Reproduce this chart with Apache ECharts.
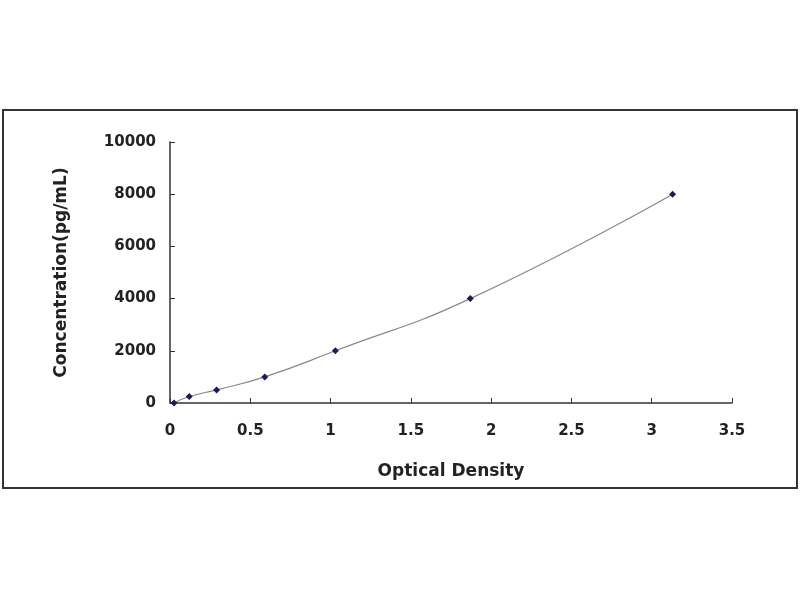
<!DOCTYPE html>
<html>
<head>
<meta charset="utf-8">
<script src="https://cdn.jsdelivr.net/npm/echarts@6/dist/echarts.min.js"></script>
<style>
  html, body { margin: 0; padding: 0; background: #fff; }
  #main { width: 800px; height: 600px; }
</style>
</head>
<body>
<div id="main"></div>
<script>
// standard curve
var od = [0.025, 0.12, 0.29, 0.59, 1.03, 1.87, 3.13];
var conc = [0, 250, 500, 1000, 2000, 4000, 8000];

var points = od.map(function (x, i) { return [x, conc[i]]; });

var chart = echarts.init(document.getElementById('main'));
var txt = '#222';
var option = {
  backgroundColor: '#fff',
  animation: false,
  textStyle: { fontFamily: 'DejaVu Sans' },
  graphic: [{
    type: 'rect',
    shape: { x: 3, y: 110, width: 794, height: 378 },
    style: { fill: 'none', stroke: '#333', lineWidth: 2 }
  }],
  grid: { left: 170, right: 68, top: 142, bottom: 197 },
  xAxis: {
    type: 'value',
    min: 0, max: 3.5, interval: 0.5,
    name: 'Optical Density',
    nameLocation: 'middle',
    nameGap: 60,
    nameTextStyle: { color: txt, fontSize: 17, fontWeight: 'bold' },
    axisLine: { lineStyle: { color: '#333', width: 1.5 } },
    axisTick: { show: true, inside: true, length: 5, lineStyle: { color: '#333' } },
    axisLabel: { color: txt, fontSize: 15, fontWeight: 'bold', margin: 21 },
    splitLine: { show: false }
  },
  yAxis: {
    type: 'value',
    min: 0, max: 10000, interval: 2000,
    name: 'Concentration(pg/mL)',
    nameLocation: 'middle',
    nameGap: 100,
    nameTextStyle: { color: txt, fontSize: 17, fontWeight: 'bold' },
    axisLine: { show: true, lineStyle: { color: '#333', width: 1.5 } },
    axisTick: { show: true, inside: true, length: 5, lineStyle: { color: '#333' } },
    axisLabel: {
      color: txt, fontSize: 15, fontWeight: 'bold', margin: 14,
      formatter: function (v) { return String(v); }
    },
    splitLine: { show: false }
  },
  series: [{
    type: 'line',
    data: points,
    smooth: true,
    symbol: 'diamond',
    symbolSize: 7,
    itemStyle: { color: '#1a1a5e' },
    lineStyle: { color: '#888', width: 1.2 }
  }]
};
chart.setOption(option);
</script>
</body>
</html>
